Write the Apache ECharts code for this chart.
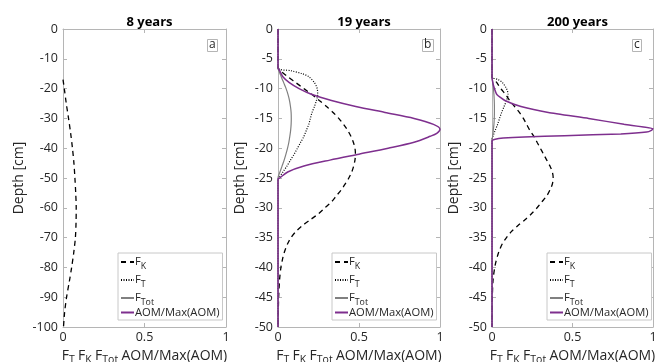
<!DOCTYPE html>
<html><head><meta charset="utf-8">
<script src="https://cdn.jsdelivr.net/npm/echarts@6/dist/echarts.min.js"></script>
<style>html,body{margin:0;padding:0;background:#fff}#c{width:655px;height:362px}</style>
</head><body><div id="c"></div>
<script>
// ---- data ----
var panelTitles = ['8 years', '19 years', '200 years'];
var panelLetters = ['a', 'b', 'c'];
var xTicks = [0, 0.5, 1];
var yMinA = -100, yStepA = 10;
var yMinBC = -50, yStepBC = 5;

// Panel a (8 years)
var depthA_K = [-17, -20, -25, -30, -35, -40, -45, -50, -55, -60, -65, -70, -75, -80, -85, -90, -95, -100];
var fkA      = [0, 0.008, 0.02, 0.034, 0.047, 0.058, 0.067, 0.073, 0.078, 0.081, 0.080, 0.076, 0.066, 0.053, 0.038, 0.022, 0.010, 0.003];

// Panel b (19 years)
var depthB_K = [0, -6.5, -7, -8, -9, -10, -11, -12, -13, -14, -15, -16, -17, -18, -19, -20, -21, -22, -23, -24, -25, -26, -27, -28, -29, -30, -31, -32, -33, -34, -35, -36, -37, -38, -39, -40, -42, -45, -50];
var fkB      = [0, 0, 0.015, 0.06, 0.11, 0.16, 0.21, 0.255, 0.30, 0.34, 0.375, 0.405, 0.43, 0.45, 0.465, 0.475, 0.478, 0.475, 0.467, 0.455, 0.437, 0.415, 0.39, 0.36, 0.33, 0.29, 0.25, 0.20, 0.15, 0.11, 0.08, 0.06, 0.045, 0.033, 0.025, 0.018, 0.010, 0.004, 0];
var depthB_T = [0, -6.5, -7, -7.5, -8, -9, -10, -11, -12, -13, -14, -15, -16, -17, -18, -19, -20, -21, -22, -23, -24, -25, -25.2, -50];
var ftB      = [0, 0, 0.08, 0.15, 0.19, 0.225, 0.242, 0.245, 0.237, 0.225, 0.21, 0.20, 0.19, 0.175, 0.16, 0.14, 0.12, 0.10, 0.077, 0.055, 0.03, 0.005, 0, 0];
var depthB_Tot = [0, -6.5, -8, -9, -10, -11, -12, -13, -14, -15, -16, -17, -18, -19, -20, -21, -22, -23, -24, -25, -50];
var ftotB      = [0, 0, 0.02, 0.035, 0.05, 0.062, 0.071, 0.077, 0.081, 0.082, 0.081, 0.078, 0.073, 0.067, 0.059, 0.049, 0.038, 0.025, 0.012, 0, 0];
var depthB_AOM = [0, -6.5, -7, -8, -9, -10, -11, -12, -13, -14, -15, -16, -16.8, -17.5, -18, -19, -20, -21, -22, -23, -24, -25, -25.2, -50];
var aomB       = [0, 0, 0.01, 0.03, 0.07, 0.13, 0.21, 0.33, 0.48, 0.66, 0.84, 0.96, 1.0, 0.98, 0.94, 0.84, 0.68, 0.50, 0.32, 0.16, 0.06, 0.01, 0, 0];

// Panel c (200 years)
var depthC_K = [0, -8, -9, -10, -11, -12, -13, -14, -15, -16, -17, -18, -19, -20, -21, -22, -23, -24, -25, -26, -27, -28, -29, -30, -31, -32, -33, -34, -35, -36, -37, -38, -39, -40, -42, -45, -50];
var fkC      = [0, 0, 0.03, 0.055, 0.085, 0.11, 0.14, 0.17, 0.195, 0.215, 0.235, 0.26, 0.28, 0.30, 0.32, 0.34, 0.36, 0.375, 0.38, 0.375, 0.36, 0.34, 0.31, 0.28, 0.245, 0.205, 0.16, 0.12, 0.09, 0.065, 0.048, 0.035, 0.025, 0.017, 0.007, 0.002, 0];
var depthC_T = [0, -8, -8.5, -9, -10, -11, -12, -13, -14, -15, -16, -17, -18, -18.5, -50];
var ftC      = [0, 0, 0.04, 0.065, 0.09, 0.10, 0.09, 0.075, 0.06, 0.047, 0.035, 0.02, 0.006, 0, 0];
var depthC_Tot = [0, -8, -9, -10, -11, -12, -13, -14, -15, -16, -17, -18, -18.6, -50];
var ftotC      = [0, 0, 0.005, 0.009, 0.012, 0.014, 0.015, 0.015, 0.014, 0.012, 0.008, 0.004, 0, 0];
var depthC_AOM = [0, -8, -9, -10, -11, -12, -13, -14, -15, -16, -16.7, -17, -17.3, -17.6, -17.9, -18.1, -18.3, -18.5, -18.8, -50];
var aomC       = [0, 0, 0.005, 0.015, 0.03, 0.08, 0.18, 0.35, 0.60, 0.82, 1.0, 0.99, 0.96, 0.80, 0.45, 0.20, 0.07, 0.02, 0, 0];

// ---- chart ----
var FONT = 'Open Sans';
var TXT = '#262626';
var BOX = '#b5b5b5';
var PURPLE = '#7E2F8E';
var grids = [
  {left: 63, top: 29, width: 163, height: 298, outerBoundsMode: 'none', containLabel: false},
  {left: 278, top: 29, width: 162, height: 298, outerBoundsMode: 'none', containLabel: false},
  {left: 492, top: 29, width: 161, height: 298, outerBoundsMode: 'none', containLabel: false}
];
var legendLefts = [118, 332, 547];
var letterLefts = [207, 422, 632];

function pairs(depth, vals) { return depth.map(function (d, i) { return [vals[i], d]; }); }

var names = ['F_K', 'F_T', 'F_Tot', 'AOM/Max(AOM)'];
var legendRich = {
  n: {fontFamily: FONT, fontSize: 11.2, color: TXT, lineHeight: 18.5},
  s: {fontFamily: FONT, fontSize: 8.8, color: TXT, padding: [9, 0, 0, 0], lineHeight: 18.5}
};
function legendFmt(name) {
  if (name === 'F_K') return '{n|F}{s|K}';
  if (name === 'F_T') return '{n|F}{s|T}';
  if (name === 'F_Tot') return '{n|F}{s|Tot}';
  return '{n|' + name + '}';
}

var styles = {
  'F_K': {color: '#000', width: 1.3, type: [5, 4]},
  'F_T': {color: '#000', width: 1.2, type: [1, 1.5]},
  'F_Tot': {color: '#808080', width: 1.2, type: 'solid'},
  'AOM/Max(AOM)': {color: PURPLE, width: 1.5, type: 'solid'}
};

function mkSeries(name, gi, data, smooth) {
  var st = styles[name];
  return {
    type: 'line', name: name, xAxisIndex: gi * 2, yAxisIndex: gi * 2,
    data: data, showSymbol: false, symbol: 'none', smooth: smooth,
    lineStyle: {color: st.color, width: st.width, type: st.type},
    itemStyle: {color: st.color},
    animation: false, silent: true
  };
}

var xAxes = [], yAxes = [], titles = [], legends = [];
for (var g = 0; g < 3; g++) {
  var isA = g === 0;
  xAxes.push({
    gridIndex: g, type: 'value', min: 0, max: 1, interval: 0.5, position: 'bottom',
    axisLine: {show: true, onZero: false, lineStyle: {color: BOX}},
    axisTick: {show: true, inside: true, length: 4, lineStyle: {color: BOX}},
    axisLabel: {color: TXT, fontFamily: FONT, fontSize: 12.5, margin: 4,
      formatter: function (v) { return xTicks.indexOf(v) >= 0 ? String(v) : ''; }},
    splitLine: {show: false},
    name: '{n|F}{s|T} {n|F}{s|K} {n|F}{s|Tot} {n|AOM/Max(AOM)}',
    nameLocation: 'middle', nameGap: 16,
    nameTextStyle: {rich: {
      n: {fontFamily: FONT, fontSize: 14, color: TXT},
      s: {fontFamily: FONT, fontSize: 10.5, color: TXT, padding: [8, 0, 0, 0]}
    }}
  });
  xAxes.push({
    gridIndex: g, type: 'value', min: 0, max: 1, interval: 0.5, position: 'top',
    axisLine: {show: true, onZero: false, lineStyle: {color: BOX}},
    axisTick: {show: true, inside: true, length: 4, lineStyle: {color: BOX}},
    axisLabel: {show: false}, splitLine: {show: false}
  });
  yAxes.push({
    gridIndex: g, type: 'value', min: isA ? yMinA : yMinBC, max: 0,
    interval: isA ? yStepA : yStepBC, position: 'left',
    axisLine: {show: true, onZero: false, lineStyle: {color: BOX}},
    axisTick: {show: true, inside: true, length: 4, lineStyle: {color: BOX}},
    axisLabel: {color: TXT, fontFamily: FONT, fontSize: 12.5, margin: 5},
    splitLine: {show: false},
    name: 'Depth [cm]', nameLocation: 'middle', nameGap: isA ? 37 : 31,
    nameTextStyle: {color: TXT, fontFamily: FONT, fontSize: 14}
  });
  yAxes.push({
    gridIndex: g, type: 'value', min: isA ? yMinA : yMinBC, max: 0,
    interval: isA ? yStepA : yStepBC, position: 'right',
    axisLine: {show: true, onZero: false, lineStyle: {color: BOX}},
    axisTick: {show: true, inside: true, length: 4, lineStyle: {color: BOX}},
    axisLabel: {show: false}, splitLine: {show: false}
  });
  titles.push({
    text: panelTitles[g], left: grids[g].left + grids[g].width / 2, top: 11, textAlign: 'center',
    textStyle: {fontFamily: FONT, fontSize: 13, fontWeight: 'bold', color: '#000'}
  });
  titles.push({
    text: panelLetters[g], left: letterLefts[g], top: 39, padding: [0, 2, 1, 2],
    borderColor: BOX, borderWidth: 1,
    textStyle: {fontFamily: FONT, fontSize: 12, fontWeight: 'normal', color: TXT}
  });
  legends.push({
    data: names, orient: 'vertical', left: legendLefts[g], top: 253,
    padding: [0, 3, 2, 2], itemGap: 0, itemWidth: 13, itemHeight: 10,
    borderColor: '#c8c8c8', borderWidth: 1, backgroundColor: '#fff',
    selectedMode: false,
    itemStyle: {opacity: 0, borderWidth: 0},
    formatter: legendFmt,
    textStyle: {rich: legendRich, padding: [0, 0, 0, -4]}
  });
}

var series = [
  mkSeries('F_K', 0, pairs(depthA_K, fkA), 0.3),
  mkSeries('F_K', 1, pairs(depthB_K, fkB), 0.3),
  mkSeries('F_T', 1, pairs(depthB_T, ftB), 0.3),
  mkSeries('F_Tot', 1, pairs(depthB_Tot, ftotB), 0.3),
  mkSeries('AOM/Max(AOM)', 1, pairs(depthB_AOM, aomB), 0.3),
  mkSeries('F_K', 2, pairs(depthC_K, fkC), 0.3),
  mkSeries('F_T', 2, pairs(depthC_T, ftC), 0.3),
  mkSeries('F_Tot', 2, pairs(depthC_Tot, ftotC), 0.3),
  mkSeries('AOM/Max(AOM)', 2, pairs(depthC_AOM, aomC), 0.15)
];

var chart = echarts.init(document.getElementById('c'), null, {renderer: 'canvas'});
chart.setOption({
  backgroundColor: '#fff',
  animation: false,
  title: titles,
  grid: grids,
  xAxis: xAxes,
  yAxis: yAxes,
  legend: legends,
  series: series
});
</script>
</body></html>
